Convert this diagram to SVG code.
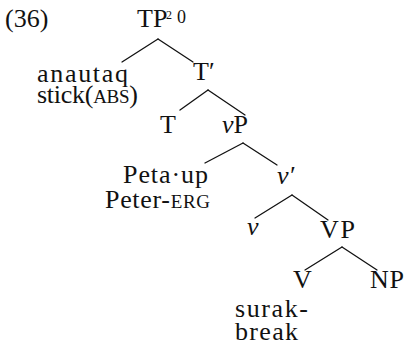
<svg xmlns="http://www.w3.org/2000/svg" width="406" height="347" viewBox="0 0 406 347">
  <style>
    text { font-size: 26px; fill: #111; }
    .it { font-style: italic; }
    .sc { font-size: 19px; }
    .edges line { stroke: #111; stroke-width: 1.3; stroke-linecap: round; }
  </style>
  <rect width="406" height="347" fill="#fff"/>

  <g font-family="'Liberation Serif', 'Times New Roman', serif">
  <text id="ex-num" x="5" y="27">(36)</text>

  <!-- tree edges -->
  <g class="edges" id="edges">
    <line x1="158" y1="39" x2="122" y2="62"/>
    <line x1="158" y1="39" x2="193" y2="62"/>
    <line x1="208" y1="90" x2="180" y2="110"/>
    <line x1="208" y1="90" x2="245" y2="115"/>
    <line x1="243" y1="143" x2="205" y2="163"/>
    <line x1="243" y1="143" x2="277" y2="165"/>
    <line x1="292" y1="195" x2="255" y2="218"/>
    <line x1="292" y1="195" x2="328" y2="220"/>
    <line x1="342" y1="247" x2="305" y2="270"/>
    <line x1="342" y1="247" x2="377" y2="270"/>
  </g>

  <g id="node-TP">
    <text x="137" y="27">TP</text>
    <text x="166" y="19" style="font-size:12px">2</text>
    <text x="177" y="23" style="font-size:18px">0</text>
  </g>
  <g id="node-anautaq">
    <text x="37" y="82" textLength="91">anautaq</text>
    <text x="37" y="103" textLength="101">stick(<tspan class="sc">ABS</tspan>)</text>
  </g>
  <g id="node-Tbar">
    <text x="193" y="80">T′</text>
  </g>
  <g id="node-T">
    <text x="160" y="133">T</text>
  </g>
  <g id="node-vP">
    <text x="222" y="133"><tspan class="it">v</tspan>P</text>
  </g>
  <g id="node-Peta">
    <text x="123" y="183" textLength="85">Peta·up</text>
    <text x="105" y="208" textLength="105">Peter-<tspan class="sc">ERG</tspan></text>
  </g>
  <g id="node-vbar">
    <text x="277" y="184" class="it">v′</text>
  </g>
  <g id="node-v">
    <text x="247" y="235" class="it">v</text>
  </g>
  <g id="node-VP">
    <text x="320" y="238" textLength="35">VP</text>
  </g>
  <g id="node-V">
    <text x="293" y="288">V</text>
    <text x="235" y="317" textLength="73">surak-</text>
    <text x="235" y="340" textLength="63">break</text>
  </g>
  <g id="node-NP">
    <text x="370" y="288" textLength="34">NP</text>
  </g>
  </g>
</svg>
